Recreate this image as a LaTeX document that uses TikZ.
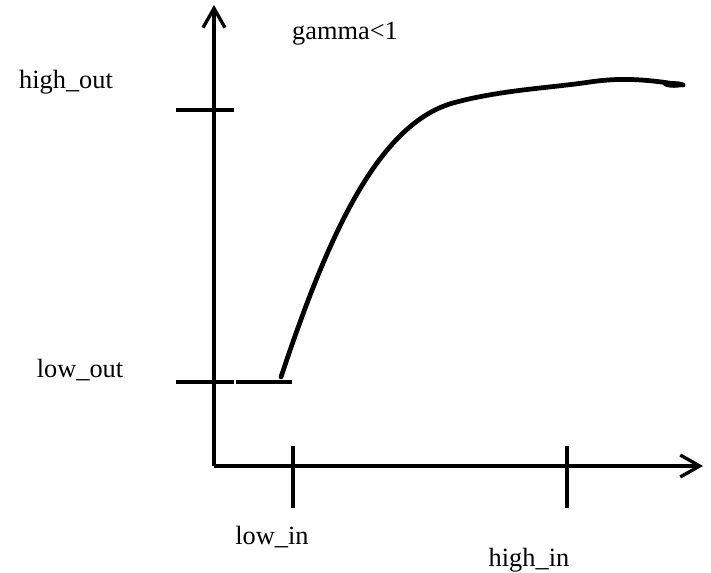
\documentclass[tikz,border=0pt]{standalone}
\usepackage{fontspec}
\setmainfont{Liberation Serif}
\usetikzlibrary{arrows.meta}
\tikzset{
  axis/.style={line width=1.9pt, -{Straight Barb[length=11pt,width=12.5pt]}},
  tickmark/.style={line width=1.9pt},
  curve/.style={line width=2.7pt, line cap=round},
  lbl/.style={anchor=base, inner sep=0pt, font=\fontsize{15}{18}\selectfont}
}

\begin{document}
\begin{tikzpicture}[x=0.02cm, y=-0.02cm]
  \useasboundingbox (0,0) rectangle (711,573);
  % axes
  \coordinate (O) at (214,466);
  \coordinate (ytip) at (214,5);
  \coordinate (xtip) at (703,466);
  \draw[axis] (O) -- (ytip);
  \draw[axis] (O) -- (xtip);
  % ticks on the output axis
  \coordinate (hoL) at (176,110); \coordinate (hoR) at (234,110);
  \coordinate (loL) at (176,382); \coordinate (loR) at (234,382);
  \draw[tickmark] (hoL) -- (hoR);
  \draw[tickmark] (loL) -- (loR);
  % ticks on the input axis
  \coordinate (liT) at (293,446); \coordinate (liB) at (293,508);
  \coordinate (hiT) at (567,446); \coordinate (hiB) at (567,508);
  \draw[tickmark] (liT) -- (liB);
  \draw[tickmark] (hiT) -- (hiB);
  % flat part and the curve
  \coordinate (flatA) at (236,382); \coordinate (flatB) at (292,382);
  \coordinate (c0) at (281,377);
  \coordinate (c1) at (453,103);
  \coordinate (c2) at (590,82);
  \coordinate (c3) at (683,85);
  \draw[tickmark] (flatA) -- (flatB);
  \draw[curve] (c0) .. controls (325,245) and (375,125) .. (c1)
    .. controls (500,90) and (550,88) .. (c2)
    .. controls (630,76) and (660,82) .. (c3);
  \fill (674,84.5) ellipse [x radius=11, y radius=3.3];
  % labels
  \node[lbl] (highout) at (66,89) {high\_out};
  \node[lbl] (lowout) at (80,378) {low\_out};
  \node[lbl] (gam) at (345,40) {gamma<1};
  \node[lbl] (lowin) at (272,545) {low\_in};
  \node[lbl] (highin) at (529,567) {high\_in};
\end{tikzpicture}
\end{document}
